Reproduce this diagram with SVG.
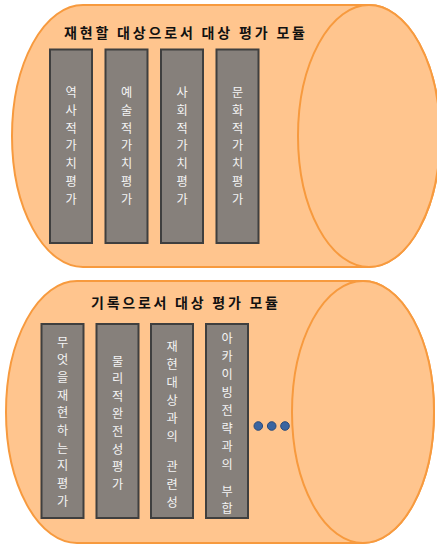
<svg xmlns="http://www.w3.org/2000/svg" width="437" height="544" viewBox="0 0 437 544">
<defs>
<style>
.cyl{fill:#FFC58E;stroke:#F79A3E;stroke-width:2}
.box{fill:#86807B;stroke:#3F3F3F;stroke-width:2}
.title{font-family:"Noto Sans CJK KR","Noto Sans",sans-serif;font-size:14px;font-weight:bold;fill:#111111}
.vt{font-family:"Noto Sans CJK KR","Noto Sans",sans-serif;font-size:12.2px;fill:#F4F4F4;text-anchor:middle}
.dot{fill:#3A64A0;stroke:#2A4A7A;stroke-width:1}
</style>
</defs>
<rect width="437" height="544" fill="#FFFFFF"/>
<g id="module-top">
<path class="cyl" d="M83,5 H369 A71,131 0 0 1 369,267 H83 A71,131 0 0 1 83,5 Z"/>
<ellipse class="cyl" cx="369" cy="136" rx="71" ry="131"/>
<text class="title" x="64" y="38" textLength="241" lengthAdjust="spacing">재현할 대상으로서 대상 평가 모듈</text>
</g>
<g id="node-history">
<rect class="box" x="50" y="49.5" width="42" height="193.5"/>
<text class="vt"><tspan x="71" y="97">역</tspan><tspan x="71" y="114.8">사</tspan><tspan x="71" y="132.6">적</tspan><tspan x="71" y="150.4">가</tspan><tspan x="71" y="168.2">치</tspan><tspan x="71" y="186">평</tspan><tspan x="71" y="203.8">가</tspan></text>
</g>
<g id="node-art">
<rect class="box" x="105.5" y="49.5" width="42" height="193.5"/>
<text class="vt"><tspan x="126.5" y="97">예</tspan><tspan x="126.5" y="114.8">술</tspan><tspan x="126.5" y="132.6">적</tspan><tspan x="126.5" y="150.4">가</tspan><tspan x="126.5" y="168.2">치</tspan><tspan x="126.5" y="186">평</tspan><tspan x="126.5" y="203.8">가</tspan></text>
</g>
<g id="node-social">
<rect class="box" x="161" y="49.5" width="42" height="193.5"/>
<text class="vt"><tspan x="182" y="97">사</tspan><tspan x="182" y="114.8">회</tspan><tspan x="182" y="132.6">적</tspan><tspan x="182" y="150.4">가</tspan><tspan x="182" y="168.2">치</tspan><tspan x="182" y="186">평</tspan><tspan x="182" y="203.8">가</tspan></text>
</g>
<g id="node-culture">
<rect class="box" x="216.5" y="49.5" width="42" height="193.5"/>
<text class="vt"><tspan x="237.5" y="97">문</tspan><tspan x="237.5" y="114.8">화</tspan><tspan x="237.5" y="132.6">적</tspan><tspan x="237.5" y="150.4">가</tspan><tspan x="237.5" y="168.2">치</tspan><tspan x="237.5" y="186">평</tspan><tspan x="237.5" y="203.8">가</tspan></text>
</g>
<g id="module-bottom">
<path class="cyl" d="M77,281 H363 A71,131 0 0 1 363,543 H77 A71,131 0 0 1 77,281 Z"/>
<ellipse class="cyl" cx="363" cy="412" rx="71" ry="131"/>
<text class="title" x="91" y="308" textLength="187" lengthAdjust="spacing">기록으로서 대상 평가 모듈</text>
</g>
<g id="node-what">
<rect class="box" x="41.5" y="324" width="42" height="194"/>
<text class="vt"><tspan x="62.5" y="346.5">무</tspan><tspan x="62.5" y="364.2">엇</tspan><tspan x="62.5" y="381.9">을</tspan><tspan x="62.5" y="399.6">재</tspan><tspan x="62.5" y="417.3">현</tspan><tspan x="62.5" y="435">하</tspan><tspan x="62.5" y="452.7">는</tspan><tspan x="62.5" y="470.4">지</tspan><tspan x="62.5" y="488.1">평</tspan><tspan x="62.5" y="505.8">가</tspan></text>
</g>
<g id="node-physical">
<rect class="box" x="96.5" y="324" width="42" height="194"/>
<text class="vt"><tspan x="117.5" y="365.5">물</tspan><tspan x="117.5" y="383.1">리</tspan><tspan x="117.5" y="400.7">적</tspan><tspan x="117.5" y="418.3">완</tspan><tspan x="117.5" y="435.9">전</tspan><tspan x="117.5" y="453.5">성</tspan><tspan x="117.5" y="471.1">평</tspan><tspan x="117.5" y="488.7">가</tspan></text>
</g>
<g id="node-relevance">
<rect class="box" x="151" y="324" width="42" height="194"/>
<text class="vt"><tspan x="172" y="351.2">재</tspan><tspan x="172" y="369.2">현</tspan><tspan x="172" y="387.2">대</tspan><tspan x="172" y="405.2">상</tspan><tspan x="172" y="423.2">과</tspan><tspan x="172" y="441.2">의</tspan><tspan x="172" y="470.5">관</tspan><tspan x="172" y="488.5">련</tspan><tspan x="172" y="506.5">성</tspan></text>
</g>
<g id="node-archiving">
<rect class="box" x="206" y="324" width="42" height="194"/>
<text class="vt"><tspan x="227" y="343">아</tspan><tspan x="227" y="361">카</tspan><tspan x="227" y="379">이</tspan><tspan x="227" y="397">빙</tspan><tspan x="227" y="415">전</tspan><tspan x="227" y="433">략</tspan><tspan x="227" y="451">과</tspan><tspan x="227" y="469">의</tspan><tspan x="227" y="495.5">부</tspan><tspan x="227" y="512.5">합</tspan></text>
</g>
<g id="ellipsis">
<circle class="dot" cx="258.3" cy="426" r="4.3"/>
<circle class="dot" cx="271.7" cy="426" r="4.3"/>
<circle class="dot" cx="285" cy="426" r="4.3"/>
</g>
<g id="connectors"></g>
</svg>
